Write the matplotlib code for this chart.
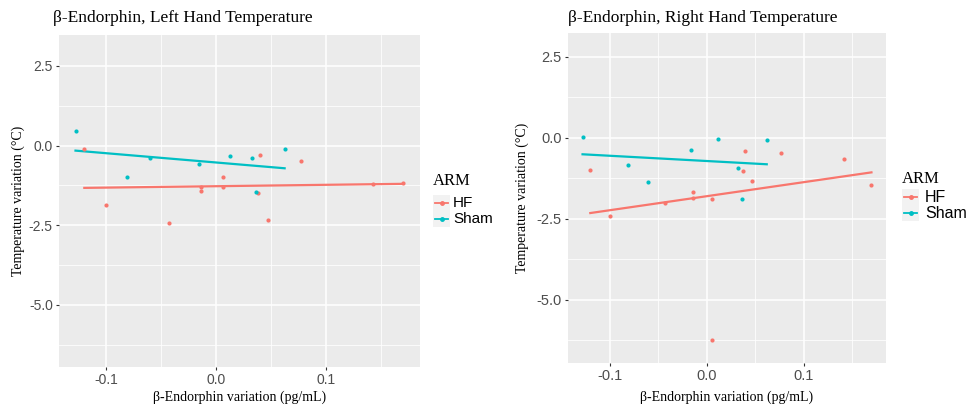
import numpy as np
import matplotlib
matplotlib.use("Agg")
import matplotlib.pyplot as plt
from matplotlib.lines import Line2D
from matplotlib.patches import Rectangle

# data
hf_x = [-0.120, -0.100, -0.043, -0.014, -0.014, 0.006, 0.006, 0.038, 0.040, 0.047, 0.077, 0.142, 0.170]
hf_left = [-0.10, -1.88, -2.44, -1.31, -1.42, -1.00, -1.30, -1.49, -0.31, -2.33, -0.50, -1.22, -1.18]
hf_right = [-0.99, -2.41, -2.02, -1.69, -1.86, -1.91, -6.25, -1.04, -0.41, -1.34, -0.48, -0.66, -1.45]

sham_x = [-0.128, -0.081, -0.060, -0.016, 0.012, 0.032, 0.036, 0.062]
sham_left = [0.46, -1.00, -0.40, -0.59, -0.34, -0.40, -1.47, -0.10]
sham_right = [0.03, -0.85, -1.38, -0.37, -0.05, -0.95, -1.91, -0.07]

titles = ["β-Endorphin, Left Hand Temperature", "β-Endorphin, Right Hand Temperature"]
groups = ["HF", "Sham"]
colors = {"HF": "#F8766D", "Sham": "#00BFC4"}

W, H = 971, 409
fig = plt.figure(figsize=(W / 100, H / 100), dpi=100)
fig.patch.set_facecolor("white")


def px_box(x0, y0, x1, y1):
    return [x0 / W, 1 - y1 / H, (x1 - x0) / W, (y1 - y0) / H]


def panel(box, ylim, title, ys_hf, ys_sham, title_x, ylab_x, xlab_y, leg, tick_fs, leg_fs):
    ax = fig.add_axes(px_box(*box))
    ax.set_facecolor("#EBEBEB")
    for s in ax.spines.values():
        s.set_visible(False)
    ax.set_xlim(-0.143, 0.185)
    ax.set_ylim(*ylim)
    ax.set_xticks([-0.1, 0.0, 0.1])
    ax.set_xticklabels(["-0.1", "0.0", "0.1"])
    ax.set_yticks([2.5, 0.0, -2.5, -5.0])
    ax.set_yticklabels(["2.5", "0.0", "-2.5", "-5.0"])
    ax.set_xticks([-0.05, 0.05, 0.15], minor=True)
    ax.set_yticks([1.25, -1.25, -3.75, -6.25], minor=True)
    ax.grid(which="major", color="white", linewidth=1.1)
    ax.grid(which="minor", color="white", linewidth=0.55)
    ax.set_axisbelow(True)
    ax.tick_params(which="major", length=2.5, color="#333333", labelcolor="#4D4D4D",
                   labelsize=tick_fs, pad=2)
    ax.tick_params(which="minor", length=0)
    for lab in ax.get_xticklabels() + ax.get_yticklabels():
        lab.set_family("Liberation Sans")

    for g, xs, ys in [("HF", hf_x, ys_hf), ("Sham", sham_x, ys_sham)]:
        xs = np.array(xs)
        ys = np.array(ys)
        ax.scatter(xs, ys, s=9, color=colors[g], linewidths=0, zorder=3)
        # lm fit per group, like geom_smooth(method = "lm", se = FALSE)
        k, b = np.polyfit(xs, ys, 1)
        xx = np.array([xs.min(), xs.max()])
        ax.plot(xx, k * xx + b, color=colors[g], linewidth=1.6, zorder=2)

    fig.text(title_x / W, 1 - 18 / H, title, family="Liberation Serif", fontsize=12.5,
             ha="left", va="center", color="black")
    cy = (box[1] + box[3]) / 2
    fig.text(ylab_x / W, 1 - cy / H, "Temperature variation (°C)", family="Liberation Serif",
             fontsize=10, rotation=90, ha="center", va="center")
    cx = (box[0] + box[2]) / 2
    fig.text(cx / W, 1 - xlab_y / H, "β-Endorphin variation (pg/mL)", family="Liberation Serif",
             fontsize=10, ha="center", va="center")

    # legend
    lx, ty, y_hf, y_sh, tx = leg
    fig.text(lx / W, 1 - ty / H, "ARM", family="Liberation Serif", fontsize=12,
             ha="left", va="center")
    fig.patches.append(Rectangle((lx / W, 1 - (y_sh + 8) / H), 17 / W, (y_sh - y_hf + 16) / H,
                                 transform=fig.transFigure, facecolor="#F2F2F2",
                                 edgecolor="none", figure=fig))
    for g, yy in [("HF", y_hf), ("Sham", y_sh)]:
        fig.lines.append(Line2D([(lx + 2) / W, (lx + 15) / W], [1 - yy / H, 1 - yy / H],
                                transform=fig.transFigure, color=colors[g], linewidth=1.3,
                                figure=fig))
        fig.lines.append(Line2D([(lx + 8.5) / W], [1 - yy / H], transform=fig.transFigure,
                                marker="o", markersize=2.5, color=colors[g],
                                linestyle="none", figure=fig))
        fig.text(tx / W, 1 - yy / H, g, family="Liberation Sans", fontsize=leg_fs,
                 ha="left", va="center", color="black")
    return ax


panel((59, 35, 420, 367), (-6.95, 3.47), titles[0], hf_left, sham_left,
      53, 18, 397, (433, 181, 203, 219, 453), 10, 11)
panel((568, 33, 886, 363), (-6.96, 3.23), titles[1], hf_right, sham_right,
      568, 522, 397, (902, 179, 197, 213, 925), 10.5, 11.5)

fig.savefig("out.png", dpi=100)
